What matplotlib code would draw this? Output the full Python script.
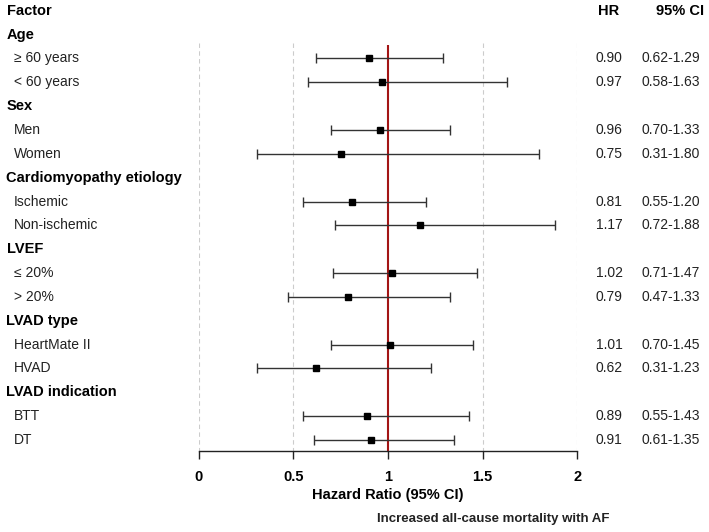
import matplotlib
matplotlib.use("Agg")
import matplotlib.pyplot as plt
from matplotlib.transforms import blended_transform_factory

plt.rcParams['font.family'] = ['Liberation Sans', 'DejaVu Sans']

groups = ["Age", "Sex", "Cardiomyopathy etiology", "LVEF", "LVAD type", "LVAD indication"]
subgroups = [["≥ 60 years", "< 60 years"], ["Men", "Women"], ["Ischemic", "Non-ischemic"],
             ["≤ 20%", "> 20%"], ["HeartMate II", "HVAD"], ["BTT", "DT"]]
hr = [[0.90, 0.97], [0.96, 0.75], [0.81, 1.17], [1.02, 0.79], [1.01, 0.62], [0.89, 0.91]]
ci_low = [[0.62, 0.58], [0.70, 0.31], [0.55, 0.72], [0.71, 0.47], [0.70, 0.31], [0.55, 0.61]]
ci_high = [[1.29, 1.63], [1.33, 1.80], [1.20, 1.88], [1.47, 1.33], [1.45, 1.23], [1.43, 1.35]]
xticks = [0, 0.5, 1, 1.5, 2]
xtick_labels = ["0", "0.5", "1", "1.5", "2"]

W, H = 709, 532
fig = plt.figure(figsize=(W / 100, H / 100), dpi=100)

x0_px, x2_px = 198.5, 577.3
axis_px = 450.7
row0_px, row_step = 10.7, 23.85
ybot = (axis_px - row0_px) / row_step
ytop = -row0_px / row_step

ax = fig.add_axes([x0_px / W, 1 - axis_px / H, (x2_px - x0_px) / W, axis_px / H])
ax.set_xlim(0, 2)
ax.set_ylim(ybot, ytop)
for s in ["top", "left", "right"]:
    ax.spines[s].set_visible(False)
ax.spines["bottom"].set_color("#222222")
ax.spines["bottom"].set_linewidth(1.0)
ax.set_yticks([])
ax.set_xticks(xticks)
ax.set_xticklabels(xtick_labels, fontweight="bold", fontsize=10.5)
ax.tick_params(axis="x", direction="out", length=6, width=1.0, color="#222222", pad=8)
ax.set_xlabel("Hazard Ratio (95% CI)", fontweight="bold", fontsize=10.5, labelpad=3)

# grid lines
for xv in [0, 0.5, 1.5, 2]:
    ax.vlines(xv, 1.35, ybot, colors="#cccccc", linestyles=(0, (4, 3)), linewidth=0.8, zorder=1)
ax.vlines(1, 1.42, ybot, colors="#a31515", linewidth=1.5, zorder=2)

tr = blended_transform_factory(fig.transFigure, ax.transData)
fs_head = 10.5
fs_item = 10

ax.text(6.5 / W, 0, "Factor", transform=tr, fontweight="bold", fontsize=fs_head, va="center", ha="left")
ax.text(598 / W, 0, "HR", transform=tr, fontweight="bold", fontsize=fs_head, va="center", ha="left")
ax.text(704 / W, 0, "95% CI", transform=tr, fontweight="bold", fontsize=fs_head, va="center", ha="right")

row = 1
for g, subs, hs, lo, hi in zip(groups, subgroups, hr, ci_low, ci_high):
    ax.text(6.5 / W, row, g, transform=tr, fontweight="bold", fontsize=fs_head, va="center", ha="left")
    row += 1
    for s, h, l, u in zip(subs, hs, lo, hi):
        ax.text(14 / W, row, s, transform=tr, fontsize=fs_item, va="center", ha="left", color="#222222")
        ax.errorbar([h], [row], xerr=[[h - l], [u - h]], fmt="s", color="#000000",
                    ecolor="#333333", elinewidth=1.0, capsize=3.5, capthick=1.0,
                    markersize=4.2, zorder=3, clip_on=False)
        ax.text(596 / W, row, f"{h:.2f}", transform=tr, fontsize=fs_item, va="center", ha="left", color="#222222")
        ax.text(641 / W, row, f"{l:.2f}-{u:.2f}", transform=tr, fontsize=fs_item, va="center", ha="left", color="#222222")
        row += 1

fig.text(377 / W, 1 - 519 / H, "Increased all-cause mortality with AF", fontweight="bold",
         fontsize=9.5, va="center", ha="left", color="#222222")

fig.savefig("out.png", dpi=100)
